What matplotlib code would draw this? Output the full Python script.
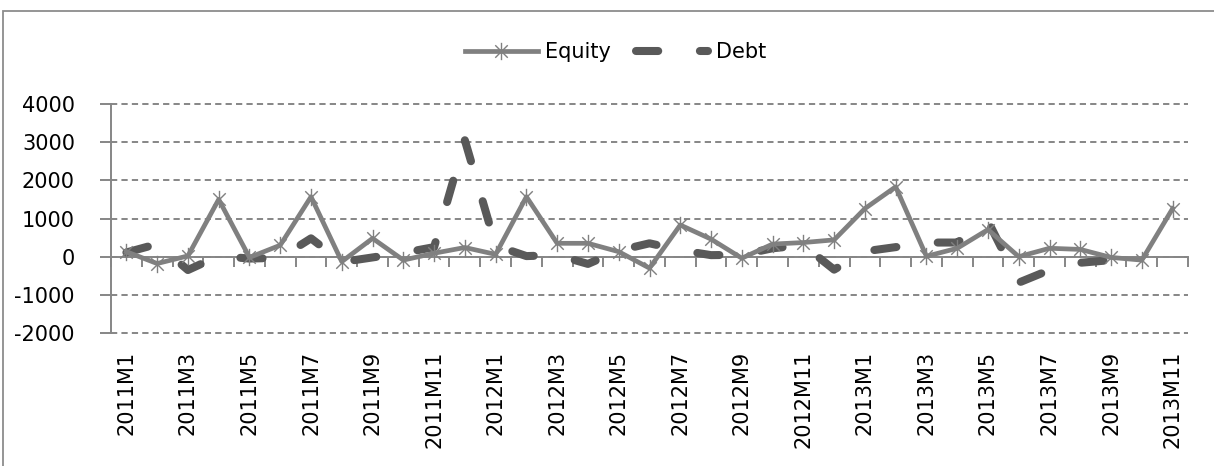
import matplotlib
matplotlib.use('Agg')
import matplotlib.pyplot as plt
import numpy as np
from matplotlib.path import Path
from matplotlib.patches import Rectangle

plt.rcParams['font.family'] = ['DejaVu Sans']
plt.rcParams['lines.scale_dashes'] = False
plt.rcParams['axes.unicode_minus'] = False

# data
months = [f'{y}M{m}' for y in (2011, 2012) for m in range(1, 13)] + [f'2013M{m}' for m in range(1, 12)]
equity = [130, -180, 20, 1500, -20, 300, 1570, -130, 480, -90, 90, 240,
          60, 1570, 350, 350, 130, -300, 830, 460, -40, 330, 370, 440,
          1260, 1830, 10, 220, 710, 0, 220, 190, -20, -90, 1260]
debt = [110, 330, -350, 20, -50, -30, 480, -140, -20, 100, 250, 3050,
        290, 15, 40, -190, 160, 350, 170, 40, 50, 220, 300, -340,
        140, 250, 370, 370, 930, -680, -350, -160, -90, -420, np.nan]
yticks = [-2000, -1000, 0, 1000, 2000, 3000, 4000]

grey = '#808080'
dark = '#595959'
axcol = '#868686'

x = np.arange(len(months))

fig = plt.figure(figsize=(12.14, 4.66), dpi=100)
ax = fig.add_axes([111/1214, 1-333/466, (1188-111)/1214, (333-104)/466])

# asterisk marker: vertical bar + X
star = Path([(0, -1), (0, 1), (-0.72, -0.72), (0.72, 0.72), (-0.72, 0.72), (0.72, -0.72)],
            [Path.MOVETO, Path.LINETO, Path.MOVETO, Path.LINETO, Path.MOVETO, Path.LINETO])

l_debt, = ax.plot(x, debt, color=dark, lw=5.8, dash_capstyle='round',
                  solid_capstyle='round', zorder=3, label='Debt')
l_debt.set_dashes((16, 30))
l_eq, = ax.plot(x, equity, color=grey, lw=3.4, marker=star, ms=12.5, mec=grey,
                mew=1.0, mfc='none', zorder=4, label='Equity',
                solid_joinstyle='round')

ax.set_xlim(-0.5, len(months) - 0.5)
ax.set_ylim(-2000, 4000)
ax.set_yticks(yticks)
ax.grid(axis='y', color=axcol, ls=(0, (4.5, 3)), lw=1.4, zorder=1)
for gl in ax.get_ygridlines():
    gl.set_clip_on(False)

for s in ('right', 'bottom'):
    ax.spines[s].set_visible(False)
ax.spines['left'].set_color(axcol)
ax.spines['left'].set_linewidth(1.4)
ax.spines['top'].set_position(('data', 0))
ax.spines['top'].set_color(axcol)
ax.spines['top'].set_linewidth(1.4)
ax.spines['top'].set_zorder(2)

ax.set_xticks(x[::2])
ax.set_xticklabels(months[::2], rotation=90, fontsize=15)
ax.set_xticks(np.arange(-0.5, len(months)), minor=True)
ax.tick_params(axis='x', which='major', length=0, pad=13, top=False, bottom=True)
ax.tick_params(axis='x', which='minor', length=7, width=1.4, color=axcol,
               direction='in', top=True, bottom=False)
ax.tick_params(axis='y', length=8, width=1.4, color=axcol, pad=18, labelsize=15)

ax.legend(handles=[l_eq, l_debt], loc='center', ncol=2, frameon=False,
          fontsize=15, handlelength=3.46, handletextpad=0.38, columnspacing=1.2,
          numpoints=1,
          bbox_to_anchor=(616/1214, 1-52/466), bbox_transform=fig.transFigure)

fig.patches.append(Rectangle((3/1214, -0.1), 1.2, 1.1 - 11/466,
                             transform=fig.transFigure, fill=False,
                             ec='#8c8c8c', lw=1.3))

fig.savefig('out.png', dpi=100)
